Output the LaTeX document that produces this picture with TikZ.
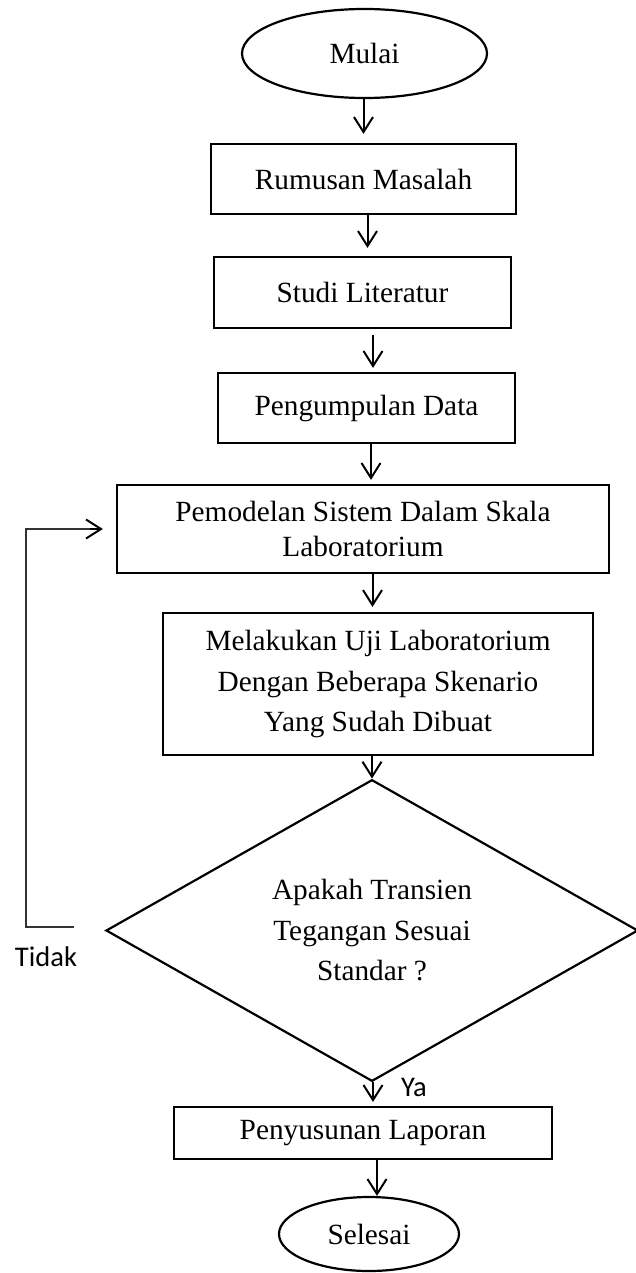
\documentclass[tikz,border=0pt]{standalone}
\usepackage{fontspec}
\setmainfont{Liberation Serif}
\newfontfamily\calibri{Carlito}
\usetikzlibrary{arrows.meta,shapes.geometric}
\begin{document}
\begin{tikzpicture}[x=1pt,y=-1pt,
  box/.style={draw,line width=2.2pt,rectangle,inner sep=0pt,align=center,font=\fontsize{29.3}{40.5}\selectfont},
  term/.style={draw,line width=2.2pt,ellipse,inner sep=0pt,font=\fontsize{29.3}{35}\selectfont},
  decis/.style={draw,line width=2.2pt,diamond,inner sep=0pt,align=center,font=\fontsize{29.3}{40.5}\selectfont},
  arr/.style={line width=2pt,-{Straight Barb[length=15pt,width=19pt]}},
  loopline/.style={line width=1.4pt,draw=black!80},
  lbl/.style={font=\calibri\fontsize{28.5}{34}\selectfont,inner sep=0pt}]
\useasboundingbox (0,0) rectangle (635,1273);
\node[term,minimum width=245pt,minimum height=89pt] (mulai) at (364.5,53.5) {Mulai};
\node[box,minimum width=305pt,minimum height=70pt] (b1) at (363.5,179) {Rumusan Masalah};
\node[box,minimum width=297pt,minimum height=71pt] (b2) at (362.5,292.5) {Studi Literatur};
\node[box,minimum width=297pt,minimum height=70pt] (b3) at (366.5,408) {Pengumpulan Data};
\node[box,minimum width=492pt,minimum height=88pt,font=\fontsize{29.3}{35}\selectfont] (b4) at (363,529) {Pemodelan Sistem Dalam Skala\\Laboratorium};
\node[box,minimum width=430pt,minimum height=142pt] (b5) at (378,684) {Melakukan Uji Laboratorium\\Dengan Beberapa Skenario\\Yang Sudah Dibuat};
\node[decis,minimum width=532pt,minimum height=275pt] (dec) at (372,930.5) {Apakah Transien\\Tegangan Sesuai\\Standar ?};
\node[box,minimum width=378pt,minimum height=52pt] (b6) at (363,1133) {Penyusunan Laporan};
\node[term,minimum width=180pt,minimum height=74pt] (selesai) at (369,1234) {Selesai};
\draw[arr,shorten >=9pt] ([xshift=-1pt]mulai.south) -- (b1.north);
\draw[arr,shorten >=8pt] ([xshift=4pt]b1.south) -- ([xshift=5pt]b2.north);
\draw[arr,shorten <=6pt,shorten >=4pt] ([xshift=10.5pt]b2.south) -- ([xshift=6.5pt]b3.north);
\draw[arr,shorten >=4pt] ([xshift=4.5pt]b3.south) -- ([xshift=8pt]b4.north);
\draw[arr,shorten >=5pt] ([xshift=9.5pt]b4.south) -- ([xshift=-5.5pt]b5.north);
\draw[arr] ([xshift=-6pt]b5.south) -- (dec.north);
\draw[arr,shorten >=4pt] ([xshift=1pt]dec.south) -- ([xshift=10pt]b6.north);
\draw[arr] ([xshift=14pt]b6.south) -- ([xshift=8pt]selesai.north);
\coordinate (lp) at (74,927);
\coordinate (lc) at (26,529);
\draw[loopline] (lp) -| (lc) -- (lc -| 90,0);
\draw[arr,shorten >=13pt] (lc -| 90,0) -- (b4.west);
\node[lbl] (tidak) at (46,957) {Tidak};
\node[lbl] (ya) at (414,1087) {Ya};
\end{tikzpicture}
\end{document}
